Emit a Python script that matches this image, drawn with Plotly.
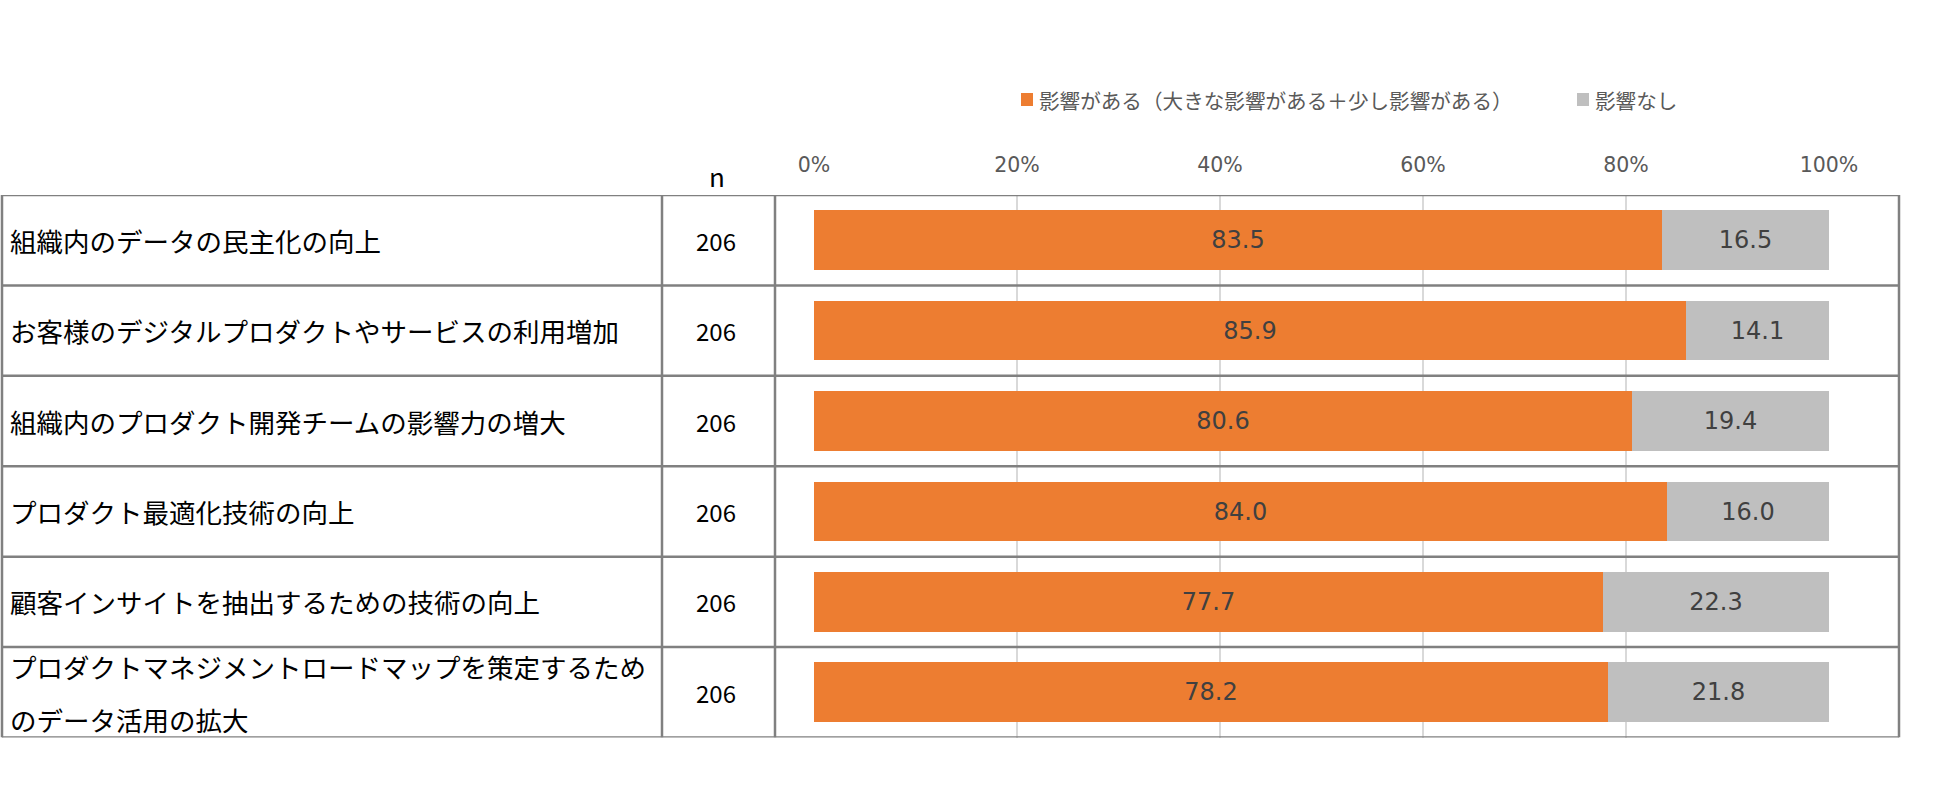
import plotly.graph_objects as go

# ---------------- data ----------------
categories = [
    "組織内のデータの民主化の向上",
    "お客様のデジタルプロダクトやサービスの利用増加",
    "組織内のプロダクト開発チームの影響力の増大",
    "プロダクト最適化技術の向上",
    "顧客インサイトを抽出するための技術の向上",
    "プロダクトマネジメントロードマップを策定するため\nのデータ活用の拡大",
]
n_values = [206, 206, 206, 206, 206, 206]
impact = [83.5, 85.9, 80.6, 84.0, 77.7, 78.2]
no_impact = [16.5, 14.1, 19.4, 16.0, 22.3, 21.8]
series_names = ["影響がある（大きな影響がある＋少し影響がある）", "影響なし"]
tick_values = [0, 20, 40, 60, 80, 100]
tick_labels = ["0%", "20%", "40%", "60%", "80%", "100%"]
n_header = "n"

# ---------------- styling ----------------
W, H = 1950, 791
ORANGE = "#ED7D31"
GRAY = "#BFBFBF"
BORDER = "#808080"
JP = "Noto Sans CJK JP"
LATIN = "DejaVu Sans"


def px(x):
    return x / W


def py(y):
    return 1 - y / H


cat_idx = list(range(len(categories)))

fig = go.Figure()
for vals, col, name in [(impact, ORANGE, series_names[0]), (no_impact, GRAY, series_names[1])]:
    fig.add_trace(go.Bar(
        y=cat_idx, x=vals, orientation="h", name=name,
        marker=dict(color=col, line=dict(width=0)), width=0.66,
        texttemplate="%{x:.1f}", textposition="inside", insidetextanchor="middle",
        textangle=0, constraintext="none",
        textfont=dict(family=LATIN, size=24, color="#404040"),
        showlegend=False, hoverinfo="x+name",
    ))

shapes = []
annotations = []

# table: row boundaries
for i in range(len(categories) + 1):
    shapes.append(dict(type="line", xref="paper", yref="y",
                       x0=px(2), x1=px(1899), y0=i - 0.5, y1=i - 0.5,
                       line=dict(color=BORDER, width=2.5), layer="above"))
# table: column boundaries
for xv in [2, 662, 775, 1899]:
    shapes.append(dict(type="line", xref="paper", yref="y",
                       x0=px(xv), x1=px(xv), y0=-0.5, y1=len(categories) - 0.5,
                       line=dict(color=BORDER, width=2.5), layer="above"))

# row labels and n values
for i, (lab, nv) in enumerate(zip(categories, n_values)):
    lines = lab.split("\n")
    if len(lines) == 1:
        annotations.append(dict(xref="paper", yref="y", x=px(8), y=i, text=lines[0],
                                xanchor="left", yanchor="middle", showarrow=False,
                                font=dict(family=JP, size=26.5, color="#000000")))
    else:
        for k, ln in enumerate(lines):
            annotations.append(dict(xref="paper", yref="y", x=px(8), y=i, text=ln,
                                    xanchor="left", yanchor="middle", showarrow=False,
                                    yshift=26 - 53 * k,
                                    font=dict(family=JP, size=26.5, color="#000000")))
    annotations.append(dict(xref="paper", yref="y", x=px(716), y=i, text=str(nv),
                            xanchor="center", yanchor="middle", showarrow=False,
                            font=dict(family=JP, size=24, color="#000000")))

annotations.append(dict(xref="paper", yref="paper", x=px(717), y=py(175), text=n_header,
                        xanchor="center", yanchor="middle", showarrow=False,
                        font=dict(family=JP, size=26, color="#000000")))

# legend (drawn manually to match the original placement)
legend_items = [(series_names[0], ORANGE, 1021), (series_names[1], GRAY, 1577)]
for name, col, x0 in legend_items:
    shapes.append(dict(type="rect", xref="paper", yref="paper",
                       x0=px(x0), x1=px(x0 + 12), y0=py(106), y1=py(93),
                       fillcolor=col, line=dict(width=0)))
    annotations.append(dict(xref="paper", yref="paper", x=px(x0 + 16), y=py(100), text=name,
                            xanchor="left", yanchor="middle", showarrow=False,
                            font=dict(family=JP, size=20.6, color="#595959")))

fig.update_layout(
    width=W, height=H, autosize=False,
    margin=dict(l=0, r=0, t=0, b=0, pad=0, autoexpand=False),
    paper_bgcolor="white", plot_bgcolor="white",
    barmode="stack", bargap=0,
    showlegend=False,
    shapes=shapes, annotations=annotations,
    xaxis=dict(domain=[px(814), px(1829)], range=[0, 100], side="top",
               tickvals=tick_values, ticktext=tick_labels, ticks="",
               tickfont=dict(family=LATIN, size=20.5, color="#595959"),
               showgrid=True, gridcolor="#D9D9D9", gridwidth=2,
               zeroline=False, showline=False, automargin=False,
               ticklabelstandoff=18, fixedrange=True),
    yaxis=dict(domain=[py(737.5), py(195)], range=[len(categories) - 0.5, -0.5],
               showticklabels=False, showgrid=False, zeroline=False, showline=False,
               ticks="", automargin=False, fixedrange=True),
)

fig.write_html("out.html", config={"displayModeBar": False},
               post_script="document.body.style.margin='0';document.body.style.overflow='hidden';")
